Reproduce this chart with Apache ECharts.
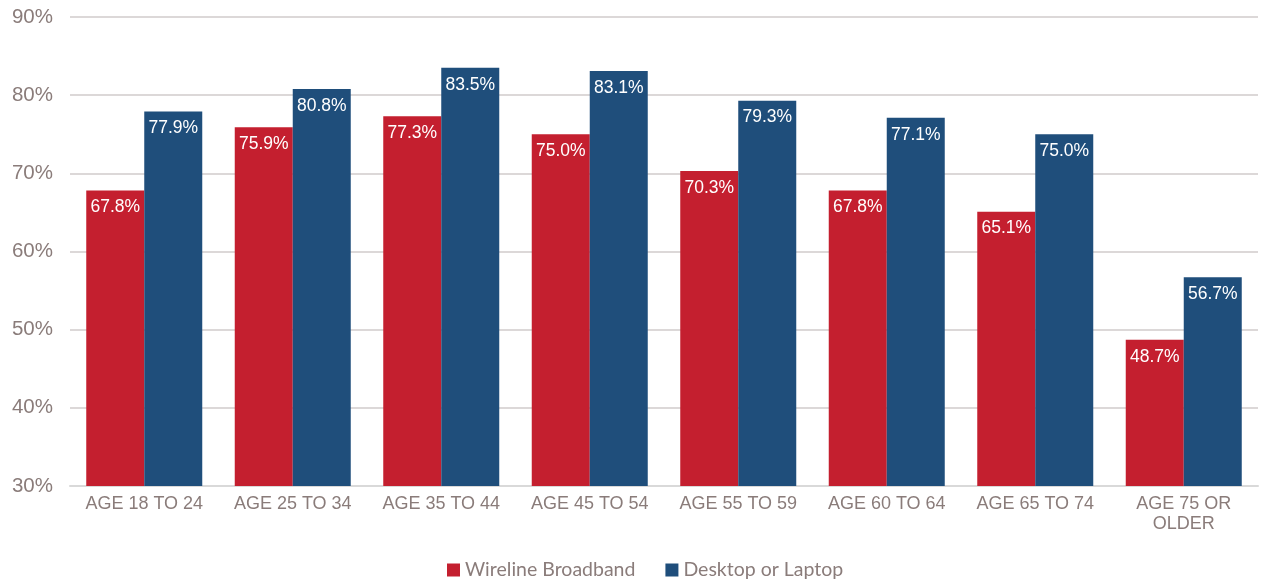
<!DOCTYPE html>
<html><head><meta charset="utf-8">
<script src="https://cdn.jsdelivr.net/npm/echarts@6/dist/echarts.min.js"></script>
<style>html,body{margin:0;padding:0;background:#fff}#c{width:1265px;height:582px}</style>
</head><body><div id="c"></div>
<script>
const categories = ['AGE 18 TO 24','AGE 25 TO 34','AGE 35 TO 44','AGE 45 TO 54','AGE 55 TO 59','AGE 60 TO 64','AGE 65 TO 74','AGE 75 OR\nOLDER'];
const wireline = [67.8, 75.9, 77.3, 75.0, 70.3, 67.8, 65.1, 48.7];
const desktop = [77.9, 80.8, 83.5, 83.1, 79.3, 77.1, 75.0, 56.7];
const seriesNames = ['Wireline Broadband', 'Desktop or Laptop'];
const textColor = '#8a7c7a';
const chart = echarts.init(document.getElementById('c'));
const label = {
  show: true, position: 'insideTop', distance: 8, color: '#fff',
  fontSize: 17.5, fontFamily: 'Liberation Sans, Arial, sans-serif',
  formatter: p => p.value.toFixed(1) + '%'
};
chart.setOption({
  animation: false,
  grid: { left: 70, right: 7, top: 17, bottom: 96, containLabel: false },
  legend: {
    bottom: -3, left: 442, itemWidth: 13, itemHeight: 13, itemGap: 30,
    icon: 'rect',
    textStyle: { color: textColor, fontSize: 19.5, fontFamily: 'Lato, Open Sans, sans-serif' },
    data: seriesNames
  },
  xAxis: {
    type: 'category', data: categories,
    axisLine: { lineStyle: { color: '#d9d9d9', width: 2 } },
    axisTick: { show: false },
    axisLabel: { color: textColor, fontSize: 18, fontFamily: 'Liberation Sans, Arial, sans-serif', margin: 8, lineHeight: 20, interval: 0 }
  },
  yAxis: {
    type: 'value', min: 30, max: 90, interval: 10,
    axisLabel: { color: textColor, fontSize: 20.5, fontFamily: 'Liberation Sans, Arial, sans-serif', formatter: v => v + '%', margin: 17 },
    splitLine: { lineStyle: { color: '#dcd8d8', width: 2 } },
    axisLine: { show: false }, axisTick: { show: false }
  },
  series: [
    { name: seriesNames[0], type: 'bar', data: wireline, barWidth: 58, barGap: '0%',
      itemStyle: { color: '#c41f2f' }, label },
    { name: seriesNames[1], type: 'bar', data: desktop, barWidth: 58, barGap: '0%',
      itemStyle: { color: '#1f4e7b' }, label }
  ]
});
</script></body></html>
